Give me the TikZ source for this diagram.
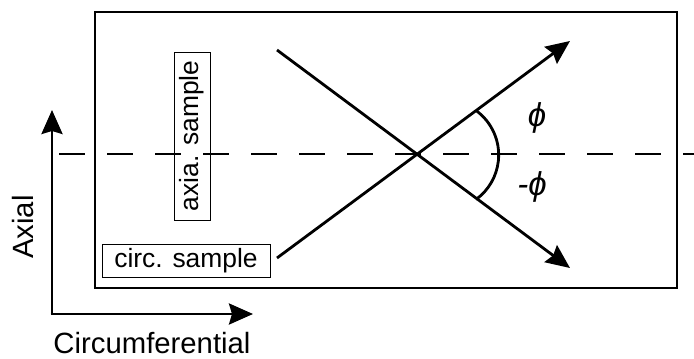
\documentclass[tikz,border=0pt]{standalone}
\usepackage{fontspec}
\setmainfont{Liberation Sans}
\usetikzlibrary{arrows.meta}
\tikzset{
  labelbig/.style={font=\fontsize{29.3}{32}\selectfont, inner sep=0pt},
  labelbox/.style={draw, line width=1pt, inner sep=0pt, font=\fontsize{26.4}{30}\selectfont},
  anglelabel/.style={font=\fontsize{33}{36}\selectfont\itshape, inner sep=0pt},
  thickline/.style={line width=2.8pt},
  bigtip/.style={-{Stealth[length=24pt,width=21pt,inset=3pt]}},
}
\begin{document}
\begin{tikzpicture}[x=1pt,y=-1pt]
\useasboundingbox (0,0) rectangle (694,359);

% specimen sheet
\draw[line width=1.3pt] (95,12) rectangle (677,288);

% axial reference line
\draw[line width=1.2pt, dash pattern=on 25.5pt off 22.5pt] (59,154) -- (694,154);

% sample strips
\node[labelbox, minimum width=168pt, minimum height=33pt] (circ) at (186,260.5) {circ. sample};
\node[labelbox, rotate=90, minimum width=168pt, minimum height=36pt] (axia) at (192,136) {axia. sample};

% crossing fibre directions
\coordinate (X) at (418,154);
\coordinate (A1) at (277,50);
\coordinate (A2) at (570,268);
\coordinate (B1) at (277,258);
\coordinate (B2) at (570,41);
\draw[thickline, bigtip] (A1) -- (A2);
\draw[thickline, bigtip] (B1) -- (B2);

% angle arc
\draw[thickline] (476,110.5) arc[start angle=-54, end angle=54, radius=55];
\node[anglelabel] (phip) at (537,118) {ϕ};
\node[anglelabel] (phim) at (532,187) {-ϕ};

% coordinate axes
\coordinate (O) at (52,314);
\coordinate (AxTip) at (52,110);
\coordinate (CiTip) at (253,314);
\draw[thickline, bigtip, line cap=butt] (O) -- (AxTip);
\draw[thickline, bigtip] ([xshift=-1.4pt]O) -- (CiTip);
\node[labelbig, rotate=90] (axlab) at (23,227) {Axial};
\node[labelbig] (cilab) at (152,343) {Circumferential};
\end{tikzpicture}
\end{document}
